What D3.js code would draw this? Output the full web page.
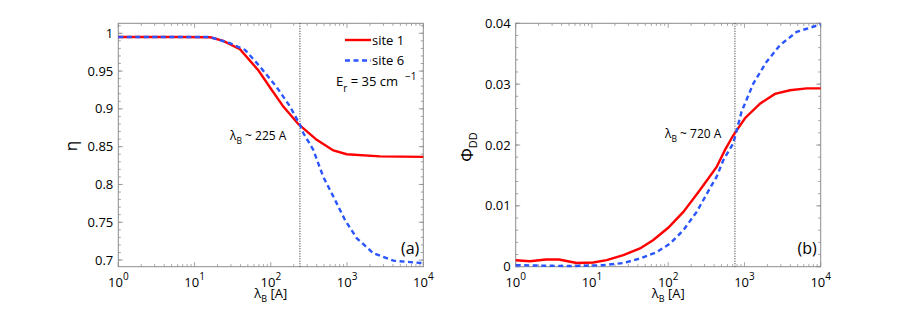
<!DOCTYPE html>
<html><head><meta charset="utf-8">
<script src="https://cdn.jsdelivr.net/npm/d3@7"></script>
<style>body{margin:0;background:#fff;} text{font-family:"Open Sans",Arial,sans-serif;fill:#000;}</style>
</head><body>
<svg id="c" width="911" height="313"></svg>
<script>
// ---- data ----
const etaSite1 = [[1,0.995],[6.4,0.995],[16,0.9947],[23.8,0.990],[39.4,0.979],[68.6,0.951],[103,0.925],[146,0.903],[229,0.880],[400,0.859],[661,0.845],[990,0.840],[2700,0.8372],[10000,0.8365]];
const etaSite6 = [[1,0.995],[6.4,0.995],[16,0.995],[29,0.987],[46,0.978],[72,0.956],[119,0.929],[179,0.903],[241,0.879],[267,0.868],[360,0.846],[488,0.810],[661,0.784],[940,0.753],[1337,0.729],[2208,0.709],[4045,0.6992],[10000,0.6958]];
const phiSite1 = [[1,0.00107],[1.54,0.0009],[2.49,0.00118],[3.7,0.00118],[6.3,0.0006],[10.4,0.0007],[15.6,0.00107],[25.8,0.0019],[42.7,0.0030],[63.8,0.0044],[100,0.0064],[158,0.0090],[261,0.0126],[432,0.0164],[556,0.0192],[714,0.0216],[1016,0.0244],[1600,0.0268],[2512,0.0284],[3955,0.0290],[6546,0.0293],[10000,0.0293]];
const phiSite6 = [[1,0.00025],[5,0.0001],[14,0.00025],[25.8,0.0006],[42.7,0.00135],[70.6,0.0024],[106,0.0038],[158,0.006],[236,0.009],[353,0.0129],[432,0.0148],[528,0.0175],[714,0.0203],[918,0.0255],[1306,0.0301],[1955,0.0337],[2924,0.0364],[4842,0.0386],[9300,0.0397],[10000,0.0398]];
const xTicks = [1,10,100,1000,10000];
const xTickExp = ["0","1","2","3","4"];
const etaTicks = [0.7,0.75,0.8,0.85,0.9,0.95,1];
const etaTickLabels = ["0.7","0.75","0.8","0.85","0.9","0.95","1"];
const phiTicks = [0,0.01,0.02,0.03,0.04];
const phiTickLabels = ["0","0.01","0.02","0.03","0.04"];
const legendLabels = ["site 1","site 6"];
const markerA = 241, markerB = 750;

const svg = d3.select("#c");
const axisCol = "#8c8c8c";

function panel(opt){
  const g = svg.append("g");
  const x = d3.scaleLog().domain([1,10000]).range([opt.x0,opt.x1]);
  const y = d3.scaleLinear().domain(opt.ydom).range([opt.y1,opt.y0]);
  const [X0,X1] = x.range(), [Y1,Y0] = y.range();
  const minorX=[];
  for(let d=1; d<10000; d*=10) for(let k=2;k<10;k++) minorX.push(d*k);
  const tk = g.append("g").attr("stroke",axisCol).attr("stroke-width",0.8);
  minorX.forEach(v=>{
    tk.append("line").attr("x1",x(v)).attr("x2",x(v)).attr("y1",Y1).attr("y2",Y1-2.5);
    tk.append("line").attr("x1",x(v)).attr("x2",x(v)).attr("y1",Y0).attr("y2",Y0+2.5);
  });
  xTicks.forEach(v=>{
    tk.append("line").attr("x1",x(v)).attr("x2",x(v)).attr("y1",Y1).attr("y2",Y1-4.5);
    tk.append("line").attr("x1",x(v)).attr("x2",x(v)).attr("y1",Y0).attr("y2",Y0+4.5);
  });
  const [ya,yb] = opt.ydom;
  const step = opt.minorStep;
  for(let v=Math.ceil(ya/step-1e-9)*step; v<=yb+1e-9; v+=step){
    tk.append("line").attr("x1",X0).attr("x2",X0+2.5).attr("y1",y(v)).attr("y2",y(v));
    tk.append("line").attr("x1",X1).attr("x2",X1-2.5).attr("y1",y(v)).attr("y2",y(v));
  }
  opt.yticks.forEach(v=>{
    tk.append("line").attr("x1",X0).attr("x2",X0+4.5).attr("y1",y(v)).attr("y2",y(v));
    tk.append("line").attr("x1",X1).attr("x2",X1-4.5).attr("y1",y(v)).attr("y2",y(v));
  });
  g.append("rect").attr("x",X0).attr("y",Y0).attr("width",X1-X0).attr("height",Y1-Y0)
    .attr("fill","none").attr("stroke",axisCol).attr("stroke-width",1);
  xTicks.forEach((v,i)=>{
    const t = g.append("text").attr("x",x(v)).attr("y",Y1+20).attr("text-anchor","middle").attr("font-size",13);
    t.append("tspan").text("10");
    t.append("tspan").attr("dy",-7).attr("font-size",10).text(xTickExp[i]);
  });
  opt.yticks.forEach((v,i)=>{
    g.append("text").attr("x",X0-5).attr("y",y(v)+4.5).attr("text-anchor","end").attr("font-size",13).text(opt.ylabels[i]);
  });
  const xl = g.append("text").attr("x",(X0+X1)/2).attr("y",Y1+31).attr("text-anchor","middle").attr("font-size",13);
  xl.append("tspan").text("λ");
  xl.append("tspan").attr("dy",4).attr("font-size",9).text("B");
  xl.append("tspan").attr("dy",-4).text(" [A]");
  g.append("line").attr("x1",x(opt.marker)).attr("x2",x(opt.marker)).attr("y1",Y0).attr("y2",Y1)
    .attr("stroke","#333").attr("stroke-width",1.1).attr("stroke-dasharray","1,1.5");
  const an = g.append("text").attr("x",opt.annX).attr("y",opt.annY).attr("font-size",12);
  an.append("tspan").text("λ");
  an.append("tspan").attr("dy",4).attr("font-size",8.5).text("B");
  an.append("tspan").attr("dy",-4).text(opt.annText);
  const line = d3.line().x(d=>x(d[0])).y(d=>y(d[1]));
  g.append("path").datum(opt.s1).attr("d",line).attr("fill","none").attr("stroke","#ff0000").attr("stroke-width",2.4);
  g.append("path").datum(opt.s6).attr("d",line).attr("fill","none").attr("stroke","#2a55ff").attr("stroke-width",2.4).attr("stroke-dasharray","5,3.5");
  g.append("text").attr("x",X1-4).attr("y",Y1-13).attr("text-anchor","end").attr("font-size",16).text(opt.tag);
  return {g,x,y};
}

const A = panel({x0:118.3,x1:423.3,y0:23.3,y1:266.7,ydom:[0.6912,1.0132],yticks:etaTicks,ylabels:etaTickLabels,minorStep:0.01,
  s1:etaSite1,s6:etaSite6,marker:markerA,annX:230,annY:140,annText:" ~ 225 A",tag:"(a)"});
const B = panel({x0:515.7,x1:820.7,y0:23.3,y1:266.7,ydom:[0,0.04],yticks:phiTicks,ylabels:phiTickLabels,minorStep:0.002,
  s1:phiSite1,s6:phiSite6,marker:markerB,annX:665,annY:138,annText:" ~ 720 A",tag:"(b)"});

svg.append("text").attr("transform","translate(77,146) rotate(-90)").attr("text-anchor","middle").attr("font-size",17).text("η");
const yl2 = svg.append("text").attr("transform","translate(473,147) rotate(-90)").attr("text-anchor","middle").attr("font-size",17);
yl2.append("tspan").text("Φ");
yl2.append("tspan").attr("dy",4).attr("font-size",11).text("DD");

const lg = svg.append("g");
lg.append("line").attr("x1",345).attr("x2",371).attr("y1",40).attr("y2",40).attr("stroke","#ff0000").attr("stroke-width",2.4);
lg.append("line").attr("x1",345).attr("x2",371).attr("y1",60.5).attr("y2",60.5).attr("stroke","#2a55ff").attr("stroke-width",2.4).attr("stroke-dasharray","5,3.5");
lg.append("text").attr("x",372).attr("y",44.5).attr("font-size",13).text(legendLabels[0]);
lg.append("text").attr("x",372).attr("y",65).attr("font-size",13).text(legendLabels[1]);
const er = lg.append("text").attr("x",336).attr("y",86).attr("font-size",13);
er.append("tspan").text("E");
er.append("tspan").attr("dy",6).attr("font-size",10).text("r");
er.append("tspan").attr("dy",-6).text(" = 35 cm");
er.append("tspan").attr("dx",7).attr("dy",-6).attr("font-size",10).text("−1");
</script>
</body></html>
